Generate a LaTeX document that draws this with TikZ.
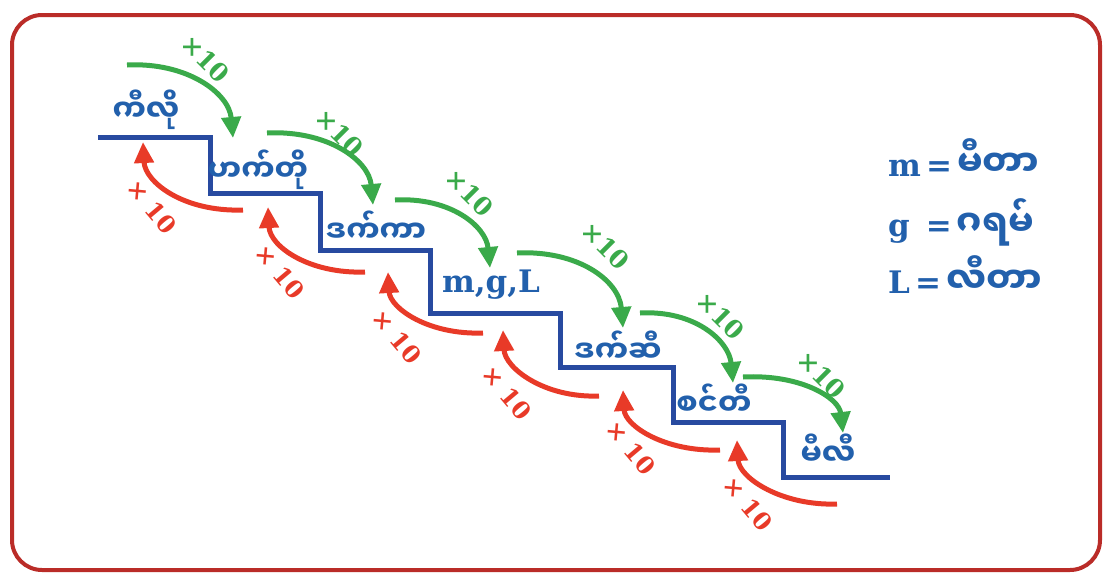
\documentclass[tikz,border=0pt]{standalone}
\usepackage{fontspec}
\newfontfamily\mmfont[Script=Myanmar]{Noto Sans Myanmar UI}
\newfontfamily\numfont{DejaVu Serif}
\usepackage{xcolor}
\usetikzlibrary{arrows.meta}
\newcommand{\keyword}[1]{{\mmfont\bfseries\fontsize{36}{40}\selectfont #1}}

\definecolor{framered}{RGB}{186,44,40}
\definecolor{stairblue}{RGB}{40,74,160}
\definecolor{unitblue}{RGB}{34,96,172}
\definecolor{tengreen}{RGB}{58,170,74}
\definecolor{tenred}{RGB}{232,58,40}

\tikzset{
  frame/.style={framered, line width=4pt, rounded corners=30pt},
  stairline/.style={stairblue, line width=5pt},
  mul/.style={tengreen, line width=5pt, -{Triangle[length=21pt,width=19pt]}},
  div/.style={tenred, line width=5pt, -{Triangle[length=21pt,width=19pt]}},
  unit/.style={text=unitblue, inner sep=0pt, font=\mmfont\bfseries\fontsize{30}{34}\selectfont},
  sym/.style={text=unitblue, inner sep=0pt, font=\numfont\bfseries\fontsize{31}{34}\selectfont},
  mullabel/.style={text=tengreen, rotate=-45, inner sep=0pt, font=\numfont\bfseries\fontsize{25}{28}\selectfont},
  divlabel/.style={text=tenred, rotate=-50, inner sep=0pt, font=\numfont\bfseries\fontsize{24}{28}\selectfont}
}

\begin{document}
\begin{tikzpicture}[x=1pt, y=-1pt]
\useasboundingbox (0,0) rectangle (1112,581);

% Border
\draw[frame] (12,15) rectangle (1100,570);

% Stairs
\draw[stairline] (98,137) -- (210,137) -- (210,193) -- (320,193) -- (320,250)
    -- (430,250) -- (430,313) -- (560,313) -- (560,367) -- (673,367)
    -- (673,422) -- (783,422) -- (783,477) -- (890,477);

% Units on the steps
\node[unit] (kilo)  at (146,110) {ကီလို};
\node[unit] (hecto) at (258,170) {ဟက်တို};
\node[unit] (deca)  at (376,227) {ဒက်ကာ};
\node[sym]  (base)  at (491,285) {m,g,L};
\node[unit] (deci)  at (618,347) {ဒက်ဆီ};
\node[unit] (centi) at (714,400) {စင်တီ};
\node[unit] (milli) at (828,450) {မီလီ};

% Ends of the x10 arrows
\coordinate (g1s) at (127,65);  \coordinate (g1e) at (233,138);
\coordinate (g2s) at (267,133); \coordinate (g2e) at (373,205);
\coordinate (g3s) at (395,200); \coordinate (g3e) at (490,268);
\coordinate (g4s) at (517,253); \coordinate (g4e) at (623,328);
\coordinate (g5s) at (640,313); \coordinate (g5e) at (733,383);
\coordinate (g6s) at (743,377); \coordinate (g6e) at (843,433);

% Green arrows, one step down
\draw[mul] (g1s) .. controls +(60,-3) and +(-4,-45) .. (g1e);
\draw[mul] (g2s) .. controls +(60,-3) and +(-4,-45) .. (g2e);
\draw[mul] (g3s) .. controls +(55,-3) and +(-4,-42) .. (g3e);
\draw[mul] (g4s) .. controls +(60,-3) and +(-4,-48) .. (g4e);
\draw[mul] (g5s) .. controls +(55,-3) and +(-4,-42) .. (g5e);
\draw[mul] (g6s) .. controls +(58,-3) and +(-4,-35) .. (g6e);

\node[mullabel] (m1) at (206,59)  {×10};
\node[mullabel] (m2) at (340,133) {×10};
\node[mullabel] (m3) at (470,193) {×10};
\node[mullabel] (m4) at (606,246) {×10};
\node[mullabel] (m5) at (721,316) {×10};
\node[mullabel] (m6) at (822,375) {×10};

% Ends of the red arrows
\coordinate (r1s) at (243,210); \coordinate (r1e) at (143,142);
\coordinate (r2s) at (365,272); \coordinate (r2e) at (268,207);
\coordinate (r3s) at (483,333); \coordinate (r3e) at (388,272);
\coordinate (r4s) at (599,396); \coordinate (r4e) at (503,330);
\coordinate (r5s) at (720,450); \coordinate (r5e) at (623,390);
\coordinate (r6s) at (837,504); \coordinate (r6e) at (737,440);

% Red arrows, one step up
\draw[div] (r1s) .. controls +(-60,2) and +(2,40) .. (r1e);
\draw[div] (r2s) .. controls +(-55,2) and +(2,40) .. (r2e);
\draw[div] (r3s) .. controls +(-55,2) and +(2,36) .. (r3e);
\draw[div] (r4s) .. controls +(-55,2) and +(2,38) .. (r4e);
\draw[div] (r5s) .. controls +(-55,2) and +(2,36) .. (r5e);
\draw[div] (r6s) .. controls +(-55,2) and +(2,38) .. (r6e);

\node[divlabel] (d1) at (152,207) {× 10};
\node[divlabel] (d2) at (280,272) {× 10};
\node[divlabel] (d3) at (397,337) {× 10};
\node[divlabel] (d4) at (507,393) {× 10};
\node[divlabel] (d5) at (631,448) {× 10};
\node[divlabel] (d6) at (748,504) {× 10};

% Legend
\node[sym, anchor=west] (lm) at (888,158) {m\,=\,\keyword{မီတာ}};
\node[sym, anchor=west] (lg) at (888,222) {g \,=\,\keyword{ဂရမ်}};
\node[sym, anchor=west] (lL) at (888,275) {L\,=\,\keyword{လီတာ}};
\end{tikzpicture}
\end{document}
